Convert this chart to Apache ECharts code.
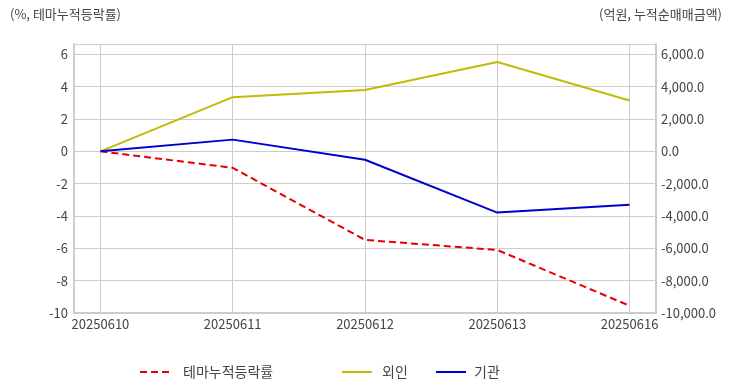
<!DOCTYPE html>
<html>
<head>
<meta charset="utf-8">
<script src="https://cdn.jsdelivr.net/npm/echarts@6/dist/echarts.min.js"></script>
<style>
html,body{margin:0;padding:0;background:#fff;}
#chart{width:732px;height:392px;}
</style>
</head>
<body>
<div id="chart"></div>
<script>
const categories = ['20250610', '20250611', '20250612', '20250613', '20250616'];
const themeReturn = [0, -1.02, -5.48, -6.1, -9.55];      // %, left axis
const foreignNet = [0, 3350, 3800, 5530, 3150];          // 억원, right axis
const institutionNet = [0, 725, -520, -3790, -3300];     // 억원, right axis
const leftTicks = [-10, -8, -6, -4, -2, 0, 2, 4, 6];
const rightTicks = [-10000, -8000, -6000, -4000, -2000, 0, 2000, 4000, 6000];

const idx = categories.map((c, i) => i);
const FONT = '"Noto Sans CJK KR", "Noto Sans", sans-serif';
const TXT = '#444';
const GRID = '#cccccc';

function legendStyle(pad) {
  return { color: TXT, fontSize: 14, fontFamily: FONT, padding: [0, 0, 0, pad] };
}

const chart = echarts.init(document.getElementById('chart'));
chart.setOption({
  animation: false,
  textStyle: { fontFamily: FONT },
  grid: { left: 74, right: 76, top: 44, bottom: 79, containLabel: false },
  graphic: [
    { type: 'text', left: 10, top: 8, style: { text: '(%, 테마누적등락률)', fill: TXT, font: '13px ' + FONT } },
    { type: 'text', right: 10, top: 8, style: { text: '(억원, 누적순매매금액)', fill: TXT, font: '13px ' + FONT } }
  ],
  legend: [
    { data: ['테마누적등락률'], left: 134, top: 360, itemWidth: 30, itemHeight: 12,
      itemStyle: { opacity: 0 }, textStyle: legendStyle(8) },
    { data: ['외인'], left: 336, top: 360, itemWidth: 30, itemHeight: 12,
      itemStyle: { opacity: 0 }, textStyle: legendStyle(5) },
    { data: ['기관'], left: 430, top: 360, itemWidth: 30, itemHeight: 12,
      itemStyle: { opacity: 0 }, textStyle: legendStyle(3) }
  ],
  xAxis: {
    type: 'value',
    min: -0.2,
    max: idx.length - 1 + 0.2,
    axisLine: { show: true, onZero: false, lineStyle: { color: GRID, width: 2 } },
    axisTick: { show: false, customValues: idx },
    axisLabel: {
      customValues: idx,
      color: TXT, fontSize: 13, margin: 5,
      formatter: v => categories[Math.round(v)] || ''
    },
    splitLine: { show: true, lineStyle: { color: GRID, width: 1 } }
  },
  yAxis: [
    {
      type: 'value',
      min: leftTicks[0],
      max: 6.64,
      interval: 2,
      position: 'left',
      axisLine: { show: true, onZero: false, lineStyle: { color: GRID, width: 2 } },
      axisTick: { show: false },
      axisLabel: { color: TXT, fontSize: 13, margin: 6, showMaxLabel: false,
        formatter: v => (leftTicks.indexOf(Math.round(v * 100) / 100) >= 0 ? String(v) : '') },
      splitLine: { show: true, lineStyle: { color: GRID, width: 1 } }
    },
    {
      type: 'value',
      min: rightTicks[0],
      max: 6640,
      interval: 2000,
      position: 'right',
      axisLine: { show: true, onZero: false, lineStyle: { color: GRID, width: 2 } },
      axisTick: { show: false },
      axisLabel: { color: TXT, fontSize: 13, margin: 5, showMaxLabel: false,
        formatter: v => (rightTicks.indexOf(v) >= 0
          ? v.toLocaleString('en-US', { minimumFractionDigits: 1, maximumFractionDigits: 1 }) : '') },
      splitLine: { show: false }
    }
  ],
  series: [
    {
      name: '테마누적등락률', type: 'line', yAxisIndex: 0,
      data: themeReturn.map((v, i) => [i, v]),
      symbol: 'none', color: '#e60000',
      lineStyle: { width: 2, type: [7, 4], color: '#e60000' }
    },
    {
      name: '외인', type: 'line', yAxisIndex: 1,
      data: foreignNet.map((v, i) => [i, v]),
      symbol: 'none', color: '#c2ba06',
      lineStyle: { width: 2, color: '#c2ba06' }
    },
    {
      name: '기관', type: 'line', yAxisIndex: 1,
      data: institutionNet.map((v, i) => [i, v]),
      symbol: 'none', color: '#0000d0',
      lineStyle: { width: 2, color: '#0000d0' }
    }
  ]
});
</script>
</body>
</html>
